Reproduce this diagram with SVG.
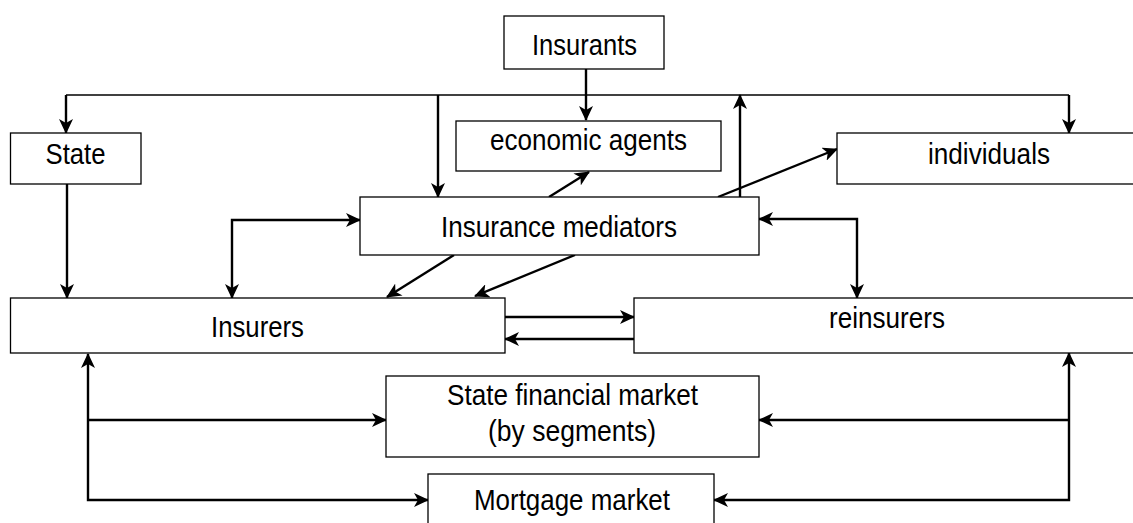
<svg xmlns="http://www.w3.org/2000/svg" width="1133" height="523" viewBox="0 0 1133 523">
<style>
.box{fill:#fff;stroke:#000;stroke-width:1.3}
.t{font-family:"Liberation Sans",Arial,sans-serif;font-size:29px;fill:#000;}
.c{fill:none;stroke:#000;stroke-width:2.4}
.thin{fill:none;stroke:#000;stroke-width:1.3}
</style>
<defs>
<marker id="ah" markerUnits="userSpaceOnUse" markerWidth="16" markerHeight="14" refX="14" refY="7" orient="auto-start-reverse" viewBox="0 0 16 14">
<path d="M0,0 L15,7 L0,14 L4,7 z" fill="#000"/>
</marker>
</defs>
<rect width="1133" height="523" fill="#fff"/>
<g id="connectors">
<path class="thin" d="M66,95 H1069"/>
<path class="c" d="M586,69 V120" marker-end="url(#ah)"/>
<path class="c" d="M66,95 V133" marker-end="url(#ah)"/>
<path class="c" d="M438,95 V197" marker-end="url(#ah)"/>
<path class="c" d="M1069,95 V133" marker-end="url(#ah)"/>
<path class="c" d="M740,197 V95" marker-end="url(#ah)"/>
<path class="c" d="M67,184 V298" marker-end="url(#ah)"/>
<path class="c" d="M232,298 V220 H360" marker-start="url(#ah)" marker-end="url(#ah)"/>
<path class="c" d="M549,197 L589,172" marker-end="url(#ah)"/>
<path class="c" d="M718,197 L837,149" marker-end="url(#ah)"/>
<path class="c" d="M454,255 L387,297" marker-end="url(#ah)"/>
<path class="c" d="M575,255 L475,296" marker-end="url(#ah)"/>
<path class="c" d="M857,298 V219 H759" marker-start="url(#ah)" marker-end="url(#ah)"/>
<path class="c" d="M505,317 H634" marker-end="url(#ah)"/>
<path class="c" d="M634,339 H505" marker-end="url(#ah)"/>
<path class="c" d="M88,354 V500 H428" marker-start="url(#ah)" marker-end="url(#ah)"/>
<path class="c" d="M88,420 H386" marker-end="url(#ah)"/>
<path class="c" d="M1069,353 V500 H714" marker-start="url(#ah)" marker-end="url(#ah)"/>
<path class="c" d="M1069,420 H759" marker-end="url(#ah)"/>
</g>
<g id="insurants"><rect class="box" x="504" y="16" width="160" height="53"/><text class="t" x="532" y="55" textLength="105" lengthAdjust="spacingAndGlyphs">Insurants</text></g>
<g id="state"><rect class="box" x="10.5" y="133" width="130.5" height="51"/><text class="t" x="45.5" y="164" textLength="60" lengthAdjust="spacingAndGlyphs">State</text></g>
<g id="economic-agents"><rect class="box" x="456" y="121" width="265" height="50"/><text class="t" x="490" y="150" textLength="197" lengthAdjust="spacingAndGlyphs">economic agents</text></g>
<g id="individuals"><rect class="box" x="837" y="133" width="303" height="51"/><text class="t" x="928" y="164" textLength="122" lengthAdjust="spacingAndGlyphs">individuals</text></g>
<g id="mediators"><rect class="box" x="360" y="197" width="399" height="58"/><text class="t" x="441" y="237" textLength="236" lengthAdjust="spacingAndGlyphs">Insurance mediators</text></g>
<g id="insurers"><rect class="box" x="10.5" y="298" width="494.5" height="55"/><text class="t" x="211" y="337" textLength="93" lengthAdjust="spacingAndGlyphs">Insurers</text></g>
<g id="reinsurers"><rect class="box" x="634" y="298" width="506" height="55"/><text class="t" x="829" y="328" textLength="116" lengthAdjust="spacingAndGlyphs">reinsurers</text></g>
<g id="state-financial-market"><rect class="box" x="386" y="376" width="373" height="81"/><text class="t" x="447" y="405" textLength="251" lengthAdjust="spacingAndGlyphs">State financial market</text><text class="t" x="488" y="441" textLength="168" lengthAdjust="spacingAndGlyphs">(by segments)</text></g>
<g id="mortgage-market"><rect class="box" x="428" y="474" width="286" height="60"/><text class="t" x="474" y="510" textLength="196" lengthAdjust="spacingAndGlyphs">Mortgage market</text></g>
</svg>
